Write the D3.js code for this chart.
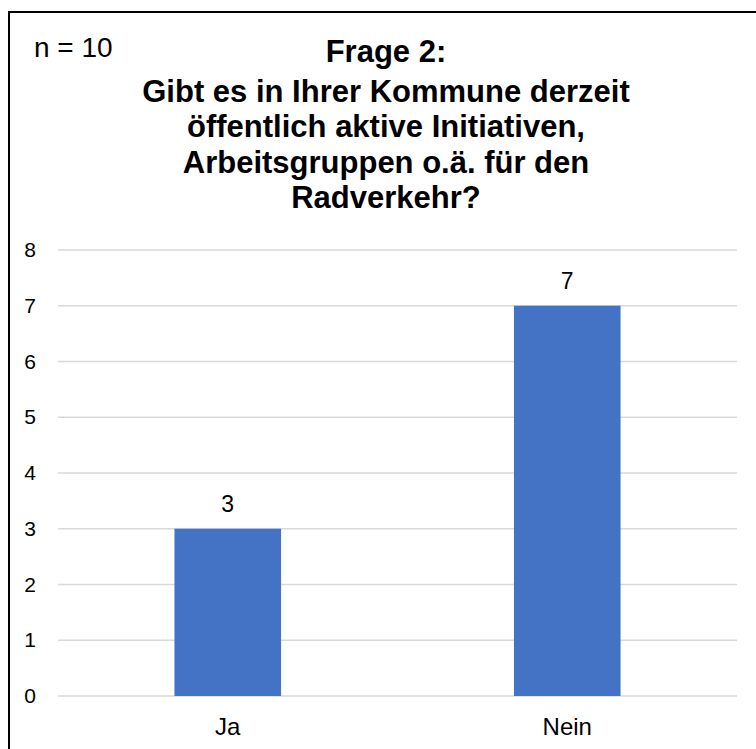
<!DOCTYPE html>
<html>
<head>
<meta charset="utf-8">
<script src="https://cdn.jsdelivr.net/npm/d3@7"></script>
<style>
  html, body { margin: 0; padding: 0; background: #fff; }
  svg { display: block; }
</style>
</head>
<body>
<svg id="chart" width="756" height="749"></svg>
<script>
// Survey answers to question 2
const categories = ["Ja", "Nein"];
const counts = [3, 7];
const yTicks = [0, 1, 2, 3, 4, 5, 6, 7, 8];
const titleLines = [
  "Frage 2:",
  "Gibt es in Ihrer Kommune derzeit",
  "öffentlich aktive Initiativen,",
  "Arbeitsgruppen o.ä. für den",
  "Radverkehr?"
];
const sampleNote = "n = 10";

const font = "Arial, 'Liberation Sans', sans-serif";
const svg = d3.select("#chart");

// outer frame (runs past the right and bottom edges)
svg.append("rect")
  .attr("x", 9).attr("y", 12)
  .attr("width", 780).attr("height", 780)
  .attr("fill", "#fff")
  .attr("stroke", "#000").attr("stroke-width", 2);

const x = d3.scaleBand()
  .domain(categories)
  .range([58, 737])
  .paddingInner(0.686)
  .paddingOuter(0.343);

const y = d3.scaleLinear().domain([0, 8]).range([696, 250]);

// horizontal gridlines
svg.append("g")
  .selectAll("line")
  .data(yTicks)
  .join("line")
  .attr("x1", 58).attr("x2", 737)
  .attr("y1", d => y(d)).attr("y2", d => y(d))
  .attr("stroke", "#d9d9d9").attr("stroke-width", 1.5);

// y axis labels
const yAxis = d3.axisLeft(y).tickValues(yTicks).tickSize(0).tickPadding(0).tickFormat(d3.format("d"));
svg.append("g")
  .attr("transform", "translate(36,0)")
  .call(yAxis)
  .call(g => g.select(".domain").remove())
  .call(g => g.selectAll("text")
    .attr("font-family", font).attr("font-size", 21).attr("fill", "#000"));

// bars
svg.append("g")
  .selectAll("rect")
  .data(counts)
  .join("rect")
  .attr("x", (d, i) => x(categories[i]))
  .attr("width", x.bandwidth())
  .attr("y", d => y(d))
  .attr("height", d => y(0) - y(d))
  .attr("fill", "#4472c4");

// value labels
svg.append("g")
  .selectAll("text")
  .data(counts)
  .join("text")
  .attr("x", (d, i) => x(categories[i]) + x.bandwidth() / 2)
  .attr("y", d => y(d) - 17)
  .attr("text-anchor", "middle")
  .attr("font-family", font).attr("font-size", 23).attr("fill", "#000")
  .text(d => d);

// category axis labels
const xAxis = d3.axisBottom(x).tickSize(0).tickPadding(0);
svg.append("g")
  .attr("transform", "translate(0,696)")
  .call(xAxis)
  .call(g => g.select(".domain").remove())
  .call(g => g.selectAll("text")
    .attr("dy", null)
    .attr("y", 39)
    .attr("font-family", font).attr("font-size", 24).attr("fill", "#000"));

// title
const titleY = [62, 102, 137, 172.5, 208];
svg.append("g")
  .selectAll("text")
  .data(titleLines)
  .join("text")
  .attr("x", 386)
  .attr("y", (d, i) => titleY[i])
  .attr("text-anchor", "middle")
  .attr("font-family", font).attr("font-size", 31).attr("font-weight", "bold").attr("fill", "#000")
  .text(d => d);

// sample size note
svg.append("text")
  .attr("x", 34).attr("y", 57)
  .attr("font-family", font).attr("font-size", 28).attr("fill", "#000")
  .text(sampleNote);
</script>
</body>
</html>
